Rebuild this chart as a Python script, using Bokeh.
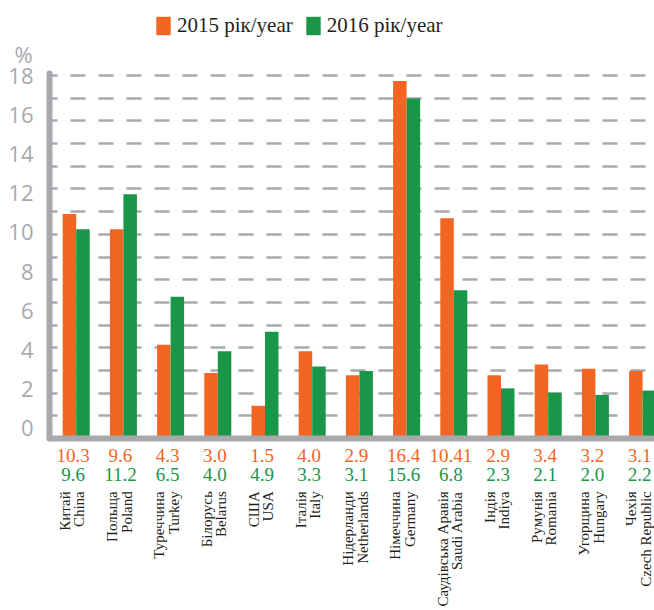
import math
from bokeh.plotting import figure
from bokeh.models import (Range1d, LinearAxis, FixedTicker, ColumnDataSource,
                          Grid, Label)
from bokeh.transform import dodge
from bokeh.core.properties import value
from bokeh.embed import file_html
from bokeh.resources import INLINE

# ---------------- data ----------------
countries_ua = ["Китай", "Польща", "Туреччина", "Білорусь", "США", "Італія",
                "Нідерланди", "Німеччина", "Саудівська Аравія", "Індія",
                "Румунія", "Угорщина", "Чехія"]
countries_en = ["China", "Poland", "Turkey", "Belarus", "USA", "Italy",
                "Netherlands", "Germany", "Saudi Arabia", "Indiya",
                "Romania", "Hungary", "Czech Republic"]
# bar heights as drawn
values_2015 = [10.3, 9.6, 4.3, 3.0, 1.5, 4.0, 2.9, 16.4, 10.1, 2.9, 3.4, 3.2, 3.1]
values_2016 = [9.6, 11.2, 6.5, 4.0, 4.9, 3.3, 3.1, 15.6, 6.8, 2.3, 2.1, 2.0, 2.2]
# printed value labels
labels_2015 = ["10.3", "9.6", "4.3", "3.0", "1.5", "4.0", "2.9", "16.4", "10.41",
               "2.9", "3.4", "3.2", "3.1"]
labels_2016 = ["9.6", "11.2", "6.5", "4.0", "4.9", "3.3", "3.1", "15.6", "6.8",
               "2.3", "2.1", "2.0", "2.2"]
y_tick_labels = [0, 2, 4, 6, 8, 10, 12, 14, 16, 18]
series_names = ["2015 рік/year", "2016 рік/year"]

# ---------------- style / layout ----------------
ORANGE = "#f26522"
GREEN = "#1a9648"
GRAY = "#a7a9ac"
BLACK = "#231f20"
SERIF = "Liberation Serif"
SANS = "Open Sans"

X_START, X_END = -1.604, 12.252
Y_START, Y_END = -7.89, 20.092
YAXIS_X = -0.566          # where the vertical axis line sits
XAXIS_END = 12.21
AXIS_TOP = 16.74
GRID_TOP = 16.65          # the drawn "18" gridline
N_GRID = 16
TICK_ZERO, TICK_SCALE = 0.46, 0.8994   # drawn position of axis labels
BAR_W = 0.286
ROW1_Y, ROW2_Y, CAT_Y = -0.757, -1.63, -2.42

src = ColumnDataSource(dict(
    x=list(range(len(countries_en))),
    v2015=values_2015, v2016=values_2016,
    l2015=labels_2015, l2016=labels_2016,
    cat=[u + "\n" + e for u, e in zip(countries_ua, countries_en)],
))

p = figure(width=654, height=610, output_backend="svg", toolbar_location=None,
           x_axis_location=None, y_axis_location=None,
           x_range=Range1d(X_START, X_END), y_range=Range1d(Y_START, Y_END),
           min_border=0, outline_line_color=None)
for r in list(p.center):
    if isinstance(r, Grid):
        r.visible = False

grid_ticks = [round(GRID_TOP * k / N_GRID, 4) for k in range(1, N_GRID + 1)]
ygrid = Grid(dimension=1, ticker=FixedTicker(ticks=grid_ticks),
             grid_line_color=GRAY, grid_line_width=2.5,
             grid_line_dash="15 13", grid_line_dash_offset=7,
             cross_bounds=(YAXIS_X, XAXIS_END))
p.add_layout(ygrid)

p.vbar(x=dodge("x", -BAR_W / 2, range=p.x_range), top="v2015", width=BAR_W,
       bottom=0, source=src, color=ORANGE, line_color=None,
       legend_label=series_names[0])
p.vbar(x=dodge("x", BAR_W / 2, range=p.x_range), top="v2016", width=BAR_W,
       bottom=0, source=src, color=GREEN, line_color=None,
       legend_label=series_names[1])

tick_pos = [round(TICK_ZERO + v * TICK_SCALE, 4) for v in y_tick_labels]
yaxis = LinearAxis(fixed_location=YAXIS_X, bounds=(0, AXIS_TOP),
                   ticker=FixedTicker(ticks=tick_pos),
                   major_label_overrides={t: str(v) for t, v in zip(tick_pos, y_tick_labels)},
                   axis_line_color=GRAY, axis_line_width=6, axis_line_cap="round",
                   major_tick_line_color=None, minor_tick_line_color=None,
                   major_label_text_font=SANS, major_label_text_font_size="22px",
                   major_label_text_color=GRAY, major_label_standoff=10)
p.add_layout(yaxis, "left")

xaxis = LinearAxis(fixed_location=0, bounds=(YAXIS_X, XAXIS_END),
                   ticker=FixedTicker(ticks=[]),
                   axis_line_color=GRAY, axis_line_width=6, axis_line_cap="round",
                   major_tick_line_color=None, minor_tick_line_color=None,
                   major_label_text_font_size="0px")
p.add_layout(xaxis, "below")

p.text(x="x", y=ROW1_Y, text="l2015", source=src, x_offset=-3,
       text_font=value(SERIF), text_font_size="19px", text_color=ORANGE,
       text_align="center", text_baseline="middle")
p.text(x="x", y=ROW2_Y, text="l2016", source=src, x_offset=-3,
       text_font=value(SERIF), text_font_size="19px", text_color=GREEN,
       text_align="center", text_baseline="middle")
p.text(x="x", y=CAT_Y, text="cat", source=src, x_offset=-4, angle=math.pi / 2,
       text_font=value(SERIF), text_font_size="15px", text_color=BLACK,
       text_align="right", text_baseline="middle", text_line_height=0.9)

p.add_layout(Label(x=-1.117, y=17.66, text="%", text_font=SANS,
                   text_font_size="22px", text_color=GRAY,
                   text_align="center", text_baseline="middle"))

leg = p.legend[0]
leg.location = (154, 572)
leg.orientation = "horizontal"
leg.glyph_width = 18
leg.glyph_height = 23
leg.label_height = 23
leg.label_standoff = 5
leg.spacing = 11
leg.padding = 0
leg.margin = 0
leg.border_line_alpha = 0
leg.background_fill_alpha = 0
leg.label_text_font = SERIF
leg.label_text_font_size = "21px"
leg.label_text_color = BLACK

open("out.html", "w").write(file_html(p, INLINE))
